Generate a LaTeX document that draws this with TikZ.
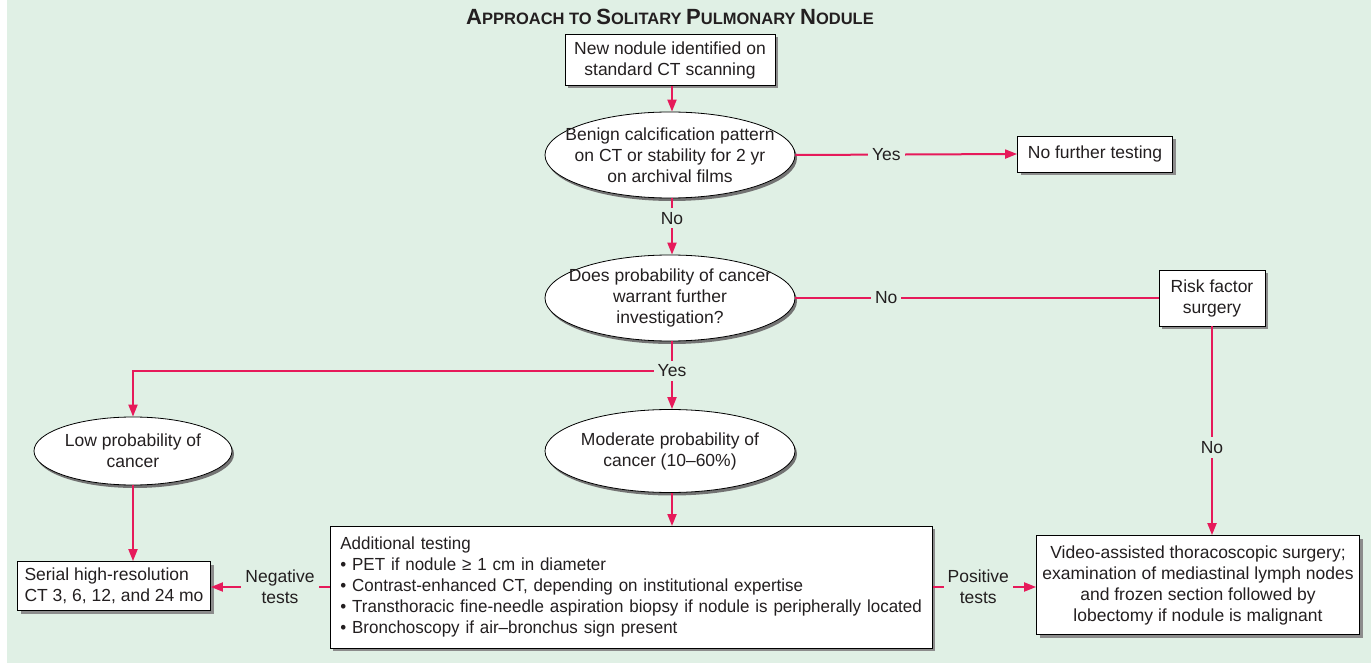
\documentclass[tikz,border=0pt]{standalone}
\usepackage{fontspec}
\setmainfont{Liberation Sans}
\newfontfamily\narrowfont[FakeStretch=0.97, Ligatures=TeX]{Liberation Sans}
\usepackage{tikz}
\usetikzlibrary{shapes.geometric,shadows,positioning,calc,arrows.meta}

\definecolor{panelgreen}{HTML}{E0F0E5}
\definecolor{flowred}{HTML}{E61A5A}
\definecolor{inkgray}{HTML}{231F20}
\newcommand{\titlecap}[1]{{\fontsize{22}{22}\selectfont #1}}

\begin{document}
\begin{tikzpicture}[x=1pt, y=-1pt,
        every node/.style={font=\fontsize{17.5}{21}\selectfont, text=inkgray},
        box/.style={rectangle, draw=black, thick, fill=white, align=center, inner sep=4pt,
            drop shadow={shadow xshift=3pt, shadow yshift=-3pt, fill=black!45, opacity=1}},
        decision/.style={ellipse, draw=black, thick, fill=white, inner sep=0pt,
            minimum width=250pt, minimum height=86pt,
            drop shadow={shadow xshift=2pt, shadow yshift=-3pt, fill=black!55, opacity=1}},
        dtext/.style={align=center, fill=none, inner sep=0pt},
        arrow/.style={-{Triangle[length=12pt, width=9pt]}, line width=2pt, draw=flowred},
        link/.style={line width=2pt, draw=flowred},
        lbl/.style={fill=panelgreen, inner sep=4pt, align=center},
    ]
        \useasboundingbox (0,0) rectangle (1371,663);
        \fill[panelgreen] (7,0) rectangle (1371,663);

        % title
        \node (title) at (670,17) {\bfseries\fontsize{16.5}{16.5}\selectfont
            \titlecap{A}PPROACH TO \titlecap{S}OLITARY \titlecap{P}ULMONARY \titlecap{N}ODULE};

        % main column
        \node[box, minimum width=210pt, minimum height=51pt] (newnod) at (670,60) {New nodule identified on\\standard CT scanning};
        \node[decision, label={[dtext]center:Benign calcification pattern\\on CT or stability for 2 yr\\on archival films}] (benign) at (670,155) {};
        \node[box, minimum width=155pt, minimum height=36pt] (nofurther) at (1095,154) {No further testing};
        \node[decision, label={[dtext]center:Does probability of cancer\\warrant further\\investigation?}] (prob) at (670,298) {};
        \node[box, minimum width=106pt, minimum height=56pt] (riskfac) at (1212,298) {Risk factor\\surgery};
        \node[decision, minimum width=198pt, minimum height=68pt,
            label={[dtext]center:Low probability of\\cancer}] (lowprob) at (133,451) {};
        \node[decision, minimum height=83pt,
            label={[dtext]center:Moderate probability of\\cancer (10--60\%)}] (modprob) at (670,451) {};
        \node[box, align=left, minimum width=193pt, minimum height=49pt] (serial) at (114,586) {Serial high-resolution\\CT 3, 6, 12, and 24 mo};
        \node[box, align=left, anchor=north west, text width=582pt, minimum height=122pt, inner xsep=10pt,
            font=\narrowfont\fontsize{17.5}{21}\selectfont] (addtest) at (330,526) {Additional testing\\
            • PET if nodule ≥ 1 cm in diameter\\
            • Contrast-enhanced CT, depending on institutional expertise\\
            • Transthoracic fine-needle aspiration biopsy if nodule is peripherally located\\
            • Bronchoscopy if air–bronchus sign present};
        \node[box, minimum width=323pt, minimum height=99pt] (vats) at (1198,585) {Video-assisted thoracoscopic surgery;\\examination of mediastinal lymph nodes\\and frozen section followed by\\lobectomy if nodule is malignant};

        \coordinate (yesjn) at (672,371);

        \draw[arrow] (newnod.south -| 672,0) -- (benign.north -| 672,0);
        \draw[arrow] (benign.east) -- node[lbl, pos=0.41] {Yes} (nofurther.west);
        \draw[arrow] (benign.south -| 672,0) -- node[lbl, pos=0.35] {No} (prob.north -| 672,0);
        \draw[link] (prob.east) -- node[lbl, pos=0.25] {No} (riskfac.west);
        \draw[link] (prob.south -| 672,0) -- (yesjn);
        \draw[arrow] (yesjn) -| (lowprob.north);
        \draw[arrow] (yesjn) -- (modprob.north -| 672,0);
        \node[lbl] at (yesjn) {Yes};
        \draw[arrow] (riskfac.south) -- node[lbl, pos=0.58] {No} (riskfac.south |- vats.north);
        \draw[arrow] (lowprob.south) -- (lowprob.south |- serial.north);
        \draw[arrow] (modprob.south -| 672,0) -- (addtest.north -| 672,0);
        \draw[arrow] (addtest.west |- 0,587) -- node[lbl, pos=0.42] {Negative\\tests} (serial.east |- 0,587);
        \draw[arrow] (addtest.east |- 0,587) -- node[lbl, pos=0.44] {Positive\\tests} (vats.west |- 0,587);

    \end{tikzpicture}
\end{document}
